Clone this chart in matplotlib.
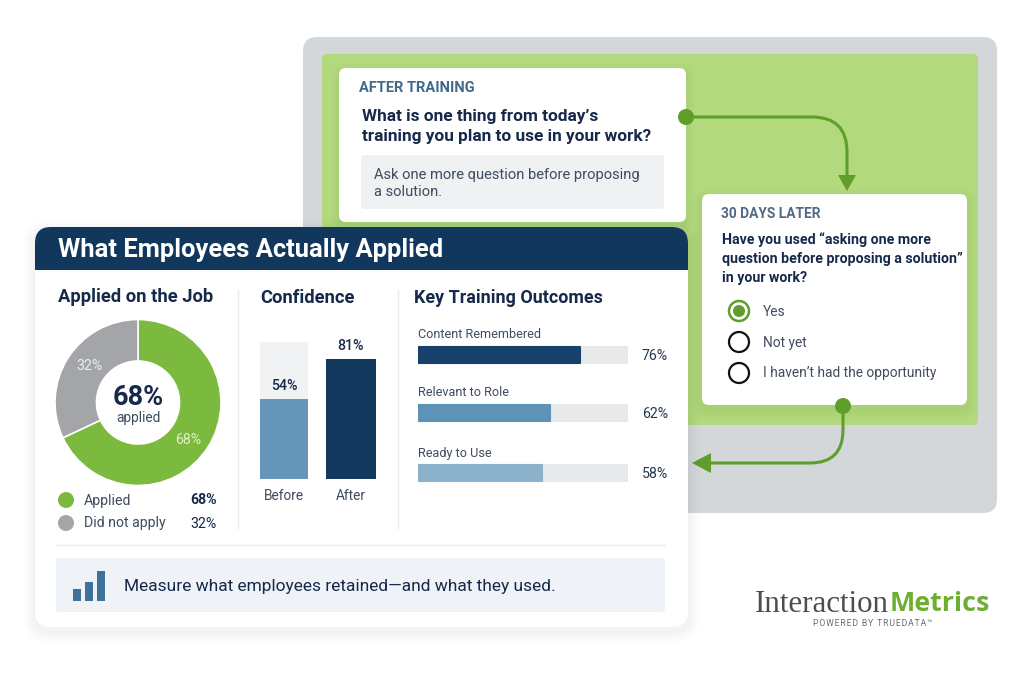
import matplotlib
matplotlib.use("Agg")
import matplotlib.pyplot as plt
from matplotlib.patches import FancyBboxPatch, Circle, Polygon, PathPatch, Rectangle
from matplotlib.path import Path

# ---- data ----
donut_labels = ["Applied", "Did not apply"]
donut_values = [68, 32]
conf_labels = ["Before", "After"]
conf_values = [54, 81]
conf_track = [92.5, 0]
outcome_labels = ["Content Remembered", "Relevant to Role", "Ready to Use"]
outcome_values = [76, 62, 58]
outcome_track = [98.3, 98.3, 98.3]
icon_values = [12, 19, 30]
radio_options = ["Yes", "Not yet", "I haven\u2019t had the opportunity"]

NAVY = "#14395f"
INK = "#16294a"
BODY = "#3f4c5e"
GREEN = "#7cb93f"
DGREEN = "#5f9e2a"
GRAY = "#a3a5a9"
BLUE = "#6595b8"
W, H = 1024, 683
plt.rcParams["font.family"] = ["Roboto", "DejaVu Sans"]

fig = plt.figure(figsize=(W / 100, H / 100), dpi=100, facecolor="white")
bg = fig.add_axes([0, 0, 1, 1], zorder=0)
bg.set_xlim(0, W)
bg.set_ylim(H, 0)
bg.axis("off")
fg = fig.add_axes([0, 0, 1, 1], zorder=50)
fg.set_xlim(0, W)
fg.set_ylim(H, 0)
fg.axis("off")
fg.patch.set_alpha(0)


def pixax(x0, y0, x1, y1, z=2):
    a = fig.add_axes([x0 / W, 1 - y1 / H, (x1 - x0) / W, (y1 - y0) / H], zorder=z)
    a.axis("off")
    a.patch.set_alpha(0)
    return a


def box(x0, y0, x1, y1, r, color, z=1, **kw):
    p = FancyBboxPatch((x0 + r, y0 + r), x1 - x0 - 2 * r, y1 - y0 - 2 * r,
                       boxstyle=f"round,pad={r},rounding_size={r}",
                       fc=color, ec="none", zorder=z, **kw)
    bg.add_patch(p)
    return p


def shadow(x0, y0, x1, y1, r, dy, spread, alpha, z, color="black"):
    for i in range(spread, 0, -2):
        box(x0 - i, y0 - i + dy, x1 + i, y1 + i + dy, r + i, color, z=z, alpha=alpha)


def T(x, y, s, size, color=INK, weight="normal", ha="left", va="center", **kw):
    return fg.text(x, y, s, fontsize=size, color=color, fontweight=weight,
                   ha=ha, va=va, **kw)


# back panels
box(303, 37, 997, 513, 14, "#d4d7d9", z=1)
box(322, 54, 978, 425, 5, "#b2d97c", z=2)

# after-training card
shadow(339, 68, 686, 222, 7, 4, 8, 0.008, 3)
box(339, 68, 686, 222, 7, "white", z=4)
T(359, 88.5, "AFTER TRAINING", 10.5, "#3f6a8c", "bold")
T(362, 116, "What is one thing from today\u2019s", 12.4, INK, "bold")
T(362, 136.5, "training you plan to use in your work?", 12.4, INK, "bold")
box(361, 155, 664, 209, 3, "#eff1f3", z=5)
T(374, 174.5, "Ask one more question before proposing", 10.6, BODY)
T(374, 192.5, "a solution.", 10.6, BODY)

# follow-up card
shadow(702, 194, 967, 405, 7, 5, 10, 0.01, 3, color="#3c6a10")
box(702, 194, 967, 405, 7, "white", z=4)
T(721, 214.5, "30 DAYS LATER", 9.9, "#526a82", "bold")
T(722, 239.5, "Have you used \u201casking one more", 10.2, INK, "bold")
T(722, 258.5, "question before proposing a solution\u201d", 10.2, INK, "bold")
T(722, 278, "in your work?", 10.2, INK, "bold")
for i, opt in enumerate(radio_options):
    yy = 311 + i * 31
    T(763, yy + 0.5, opt, 9.9, BODY)
    if i == 0:
        bg.add_patch(Circle((739, yy), 10, fc="white", ec=DGREEN, lw=1.8, zorder=6))
        bg.add_patch(Circle((739, yy), 6, fc=DGREEN, ec="none", zorder=7))
    else:
        bg.add_patch(Circle((739, yy), 10, fc="white", ec="#111111", lw=1.6, zorder=6))

# connectors
conn1 = Path([(686, 117), (812, 117), (847, 117), (847, 152), (847, 178)],
             [Path.MOVETO, Path.LINETO, Path.CURVE3, Path.CURVE3, Path.LINETO])
bg.add_patch(PathPatch(conn1, fc="none", ec=DGREEN, lw=2.2, zorder=5))
bg.add_patch(Circle((686, 117), 8, fc=DGREEN, ec="none", zorder=6))
bg.add_patch(Polygon([(838, 175), (856, 175), (847, 191)], fc=DGREEN, ec="none", zorder=5))
conn2 = Path([(843, 406), (843, 430), (843, 463), (810, 463), (708, 463)],
             [Path.MOVETO, Path.LINETO, Path.CURVE3, Path.CURVE3, Path.LINETO])
bg.add_patch(PathPatch(conn2, fc="none", ec=DGREEN, lw=2.2, zorder=5))
bg.add_patch(Circle((843, 406), 8, fc=DGREEN, ec="none", zorder=6))
bg.add_patch(Polygon([(711, 453), (711, 473), (692, 463)], fc=DGREEN, ec="none", zorder=5))

# main card
shadow(35, 227, 688, 627, 16, 4, 12, 0.006, 8)
box(35, 227, 688, 627, 16, "white", z=9)
box(35, 227, 688, 290, 16, "#12375c", z=10)
bg.add_patch(Rectangle((35, 270), 653, 30, fc="white", ec="none", zorder=10.5))
T(57.5, 250, "What Employees Actually Applied", 18.4, "white", "bold")

T(58, 297.5, "Applied on the Job", 13.2, INK, "bold")
T(260, 298, "Confidence", 13.2, INK, "bold")
T(414, 298, "Key Training Outcomes", 12.9, INK, "bold")
bg.plot([238, 238], [290, 528], color="#e9ebed", lw=1, zorder=11)
bg.plot([398, 398], [290, 528], color="#e9ebed", lw=1, zorder=11)

# donut
ax_d = pixax(55, 319.5, 221, 485.5, 12)
ax_d.pie(donut_values, colors=[GREEN, GRAY], startangle=90, counterclock=False, radius=1,
         wedgeprops=dict(width=0.5, edgecolor="white", linewidth=1.2))
ax_d.set_xlim(-1, 1)
ax_d.set_ylim(-1, 1)
T(138, 397.5, f"{donut_values[0]}%", 19.5, INK, "bold", ha="center")
T(138, 418, "applied", 9.8, BODY, ha="center")
T(89, 366, f"{donut_values[1]}%", 10.2, "#eceded", ha="center")
T(188, 440, f"{donut_values[0]}%", 10.2, "#dff0c8", ha="center")

for i, (lab, val, col) in enumerate(zip(donut_labels, donut_values, [GREEN, GRAY])):
    yy = 500 + i * 23
    bg.add_patch(Circle((66, yy), 8, fc=col, ec="none", zorder=12))
    T(84, yy + 0.5, lab, 10.2, BODY)
    T(217, yy + 0.5, f"{val}%", 10.2, INK, "bold" if i == 0 else "normal", ha="right")

# confidence bars: axes spans y pixels 479 up to 342 for 92.5 units
ax_c = pixax(251, 342, 385, 479, 12)
pos = [0, 1]
ax_c.bar(pos, conf_track, width=0.716, color="#f1f2f4")
ax_c.bar(pos, conf_values, width=[0.716, 0.746], color=[BLUE, "#14395f"])
ax_c.set_xlim(-0.4925, 1.5075)
ax_c.set_ylim(0, 92.5)
for p, v, lab in zip(pos, conf_values, conf_labels):
    ax_c.annotate(f"{v}%", (p, v), xytext=(0, 4), textcoords="offset points",
                  ha="center", va="bottom", fontsize=10.2, color=INK, fontweight="medium",
                  annotation_clip=False)
    ax_c.annotate(lab, (p, 0), xytext=(0, -7), textcoords="offset points",
                  ha="center", va="top", fontsize=9.8, color=BODY, annotation_clip=False)

# outcome bars: axes x pixels 418..628 = 0..98.3, y rows
ax_o = pixax(418, 335, 628, 491, 12)
ypix = [355, 413, 473]
ypos = [(491 - y) for y in ypix]
ax_o.set_xlim(0, 98.3)
ax_o.set_ylim(0, 156)
ax_o.barh(ypos, outcome_track, height=16.5, color="#e7e9eb", edgecolor="#e7e9eb", linewidth=1.5,
          joinstyle="round")
ocol = ["#17416a", "#5e92b6", "#8cb1cb"]
ax_o.barh(ypos, outcome_values, height=16.5, color=ocol, edgecolor=ocol, linewidth=1.5,
          joinstyle="round")
for y, lab, v in zip(ypix, outcome_labels, outcome_values):
    T(418, y - 20, lab, 9.1, BODY)
    T(668, y + 0.5, f"{v}%", 10.2, "#26374f", ha="right")

# footer
bg.plot([56, 665], [545, 545], color="#e9ebed", lw=1, zorder=11)
box(56, 558, 665, 612, 3, "#eff3f7", z=11)
ax_i = pixax(71, 570, 106, 601, 13)
ax_i.bar([0, 1, 2], icon_values, width=0.65, color="#3f7199")
ax_i.set_xlim(-0.5, 2.42)
ax_i.set_ylim(0, 31)
T(123.5, 586.5, "Measure what employees retained\u2014and what they used.", 12.5, INK)

# logo
T(755, 604, "Interaction", 22.3, "#4a4d52", family="Liberation Serif")
T(890, 604, "Metrics", 19.4, "#6fae34", "bold", family="Open Sans")
T(872.5, 624, "\u200a".join("POWERED BY TRUEDATA\u2122"), 6.2, "#6a6f75", ha="center",
  family=["Roboto", "DejaVu Sans"])

fig.savefig("out.png", dpi=100, facecolor="white")
